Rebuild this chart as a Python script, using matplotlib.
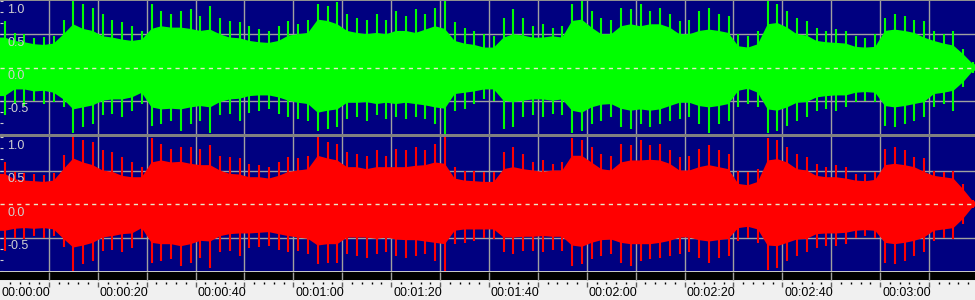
import numpy as np
import matplotlib
matplotlib.use("Agg")
import matplotlib.pyplot as plt
from matplotlib.patches import Rectangle

plt.rcParams['font.family'] = ['Liberation Sans', 'DejaVu Sans']

# 2 second blocks, start times in seconds
block_start = np.arange(0, 200, 2)
t_end = 199.4

# left channel (green): dense body and outer peaks
green_body_hi = [0.45, 0.40, 0.38, 0.35, 0.34, 0.36, 0.50, 0.65, 0.58, 0.55,
                 0.47, 0.45, 0.42, 0.40, 0.42, 0.58, 0.62, 0.60, 0.60, 0.58,
                 0.55, 0.57, 0.50, 0.45, 0.44, 0.40, 0.38, 0.37, 0.40, 0.48,
                 0.50, 0.52, 0.72, 0.70, 0.65, 0.55, 0.52, 0.50, 0.52, 0.50,
                 0.55, 0.55, 0.52, 0.57, 0.62, 0.58, 0.40, 0.36, 0.34, 0.30,
                 0.30, 0.45, 0.50, 0.48, 0.45, 0.45, 0.47, 0.45, 0.70, 0.72,
                 0.60, 0.50, 0.50, 0.62, 0.65, 0.62, 0.65, 0.65, 0.60, 0.50,
                 0.50, 0.55, 0.57, 0.55, 0.52, 0.32, 0.30, 0.35, 0.65, 0.67,
                 0.60, 0.50, 0.48, 0.40, 0.38, 0.37, 0.36, 0.31, 0.30, 0.31,
                 0.55, 0.57, 0.55, 0.52, 0.45, 0.40, 0.36, 0.33, 0.20, 0.05]
green_peak_hi = [0.70, 0.52, 0.50, 0.45, 0.46, 0.48, 0.72, 1.00, 0.95, 0.90,
                 0.80, 0.72, 0.68, 0.62, 0.55, 0.95, 0.85, 0.80, 0.85, 0.88,
                 0.78, 0.92, 0.75, 0.70, 0.68, 0.62, 0.58, 0.55, 0.62, 0.70,
                 0.66, 0.72, 0.95, 0.92, 0.98, 0.80, 0.75, 0.72, 0.80, 0.72,
                 0.85, 0.78, 0.88, 0.80, 0.90, 1.00, 0.68, 0.60, 0.55, 0.50,
                 0.48, 0.75, 0.88, 0.75, 0.62, 0.65, 0.60, 0.62, 0.95, 1.00,
                 0.85, 0.75, 0.72, 0.90, 0.88, 0.95, 0.85, 0.90, 0.80, 0.70,
                 0.72, 0.85, 0.90, 0.80, 0.78, 0.50, 0.48, 0.55, 1.00, 0.95,
                 0.85, 0.75, 0.70, 0.60, 0.55, 0.58, 0.55, 0.48, 0.45, 0.50,
                 0.75, 0.80, 0.78, 0.72, 0.70, 0.55, 0.50, 0.55, 0.28, 0.08]
green_body_lo = [-0.43, -0.33, -0.33, -0.36, -0.35, -0.38, -0.48, -0.63, -0.60, -0.57,
                 -0.50, -0.48, -0.48, -0.45, -0.38, -0.60, -0.63, -0.62, -0.63, -0.60,
                 -0.58, -0.60, -0.52, -0.48, -0.47, -0.43, -0.42, -0.42, -0.45, -0.50,
                 -0.53, -0.55, -0.68, -0.65, -0.63, -0.53, -0.53, -0.52, -0.55, -0.53,
                 -0.55, -0.53, -0.55, -0.57, -0.60, -0.62, -0.40, -0.38, -0.36, -0.33,
                 -0.33, -0.50, -0.52, -0.50, -0.48, -0.48, -0.50, -0.48, -0.65, -0.68,
                 -0.60, -0.56, -0.55, -0.62, -0.65, -0.63, -0.65, -0.63, -0.58, -0.53,
                 -0.53, -0.58, -0.60, -0.58, -0.55, -0.35, -0.32, -0.38, -0.63, -0.65,
                 -0.60, -0.53, -0.52, -0.45, -0.43, -0.42, -0.42, -0.38, -0.37, -0.38,
                 -0.58, -0.60, -0.58, -0.55, -0.52, -0.40, -0.38, -0.35, -0.22, -0.05]
green_peak_lo = [-0.72, -0.55, -0.58, -0.50, -0.55, -0.52, -0.60, -0.98, -0.90, -0.85,
                 -0.72, -0.70, -0.75, -0.65, -0.55, -0.88, -0.85, -0.80, -0.95, -0.85,
                 -0.80, -0.98, -0.72, -0.70, -0.80, -0.68, -0.65, -0.62, -0.70, -0.75,
                 -0.78, -0.80, -0.95, -0.92, -0.90, -0.78, -0.75, -0.80, -0.72, -0.78,
                 -0.75, -0.78, -0.75, -0.78, -0.85, -1.00, -0.65, -0.62, -0.55, -0.48,
                 -0.50, -0.93, -0.90, -0.75, -0.72, -0.75, -0.70, -0.72, -0.98, -0.95,
                 -0.85, -0.80, -0.75, -0.90, -0.92, -0.85, -0.90, -0.85, -0.80, -0.78,
                 -0.75, -0.85, -0.98, -0.85, -0.80, -0.60, -0.55, -0.60, -0.98, -0.95,
                 -0.88, -0.80, -0.75, -0.65, -0.62, -0.65, -0.60, -0.52, -0.50, -0.52,
                 -0.88, -0.90, -0.85, -0.80, -0.75, -0.60, -0.55, -0.65, -0.30, -0.08]

# right channel (red)
red_body_hi = [0.45, 0.37, 0.35, 0.34, 0.33, 0.35, 0.52, 0.68, 0.62, 0.58,
               0.50, 0.48, 0.42, 0.40, 0.40, 0.62, 0.65, 0.62, 0.63, 0.60,
               0.58, 0.58, 0.50, 0.45, 0.44, 0.40, 0.40, 0.38, 0.42, 0.48,
               0.50, 0.52, 0.72, 0.68, 0.65, 0.55, 0.55, 0.52, 0.55, 0.55,
               0.55, 0.55, 0.57, 0.58, 0.62, 0.60, 0.38, 0.35, 0.34, 0.33,
               0.33, 0.52, 0.55, 0.52, 0.50, 0.48, 0.50, 0.50, 0.72, 0.72,
               0.62, 0.52, 0.50, 0.62, 0.65, 0.65, 0.66, 0.65, 0.60, 0.50,
               0.50, 0.55, 0.58, 0.55, 0.52, 0.30, 0.28, 0.33, 0.65, 0.67,
               0.62, 0.52, 0.50, 0.42, 0.40, 0.40, 0.38, 0.35, 0.34, 0.36,
               0.58, 0.60, 0.58, 0.55, 0.48, 0.42, 0.40, 0.38, 0.22, 0.04]
red_peak_hi = [0.62, 0.48, 0.46, 0.45, 0.44, 0.47, 0.73, 1.00, 0.95, 0.92,
               0.80, 0.78, 0.70, 0.62, 0.55, 0.98, 0.90, 0.82, 0.85, 0.85,
               0.82, 0.88, 0.72, 0.70, 0.68, 0.60, 0.58, 0.55, 0.62, 0.70,
               0.68, 0.72, 1.00, 0.92, 0.90, 0.78, 0.75, 0.72, 0.80, 0.72,
               0.82, 0.80, 0.85, 0.80, 0.90, 1.00, 0.55, 0.50, 0.50, 0.48,
               0.48, 0.78, 0.85, 0.75, 0.62, 0.65, 0.60, 0.62, 0.98, 0.95,
               0.85, 0.75, 0.72, 0.90, 0.88, 0.95, 0.88, 0.90, 0.80, 0.70,
               0.72, 0.82, 0.88, 0.80, 0.75, 0.50, 0.48, 0.52, 0.98, 0.95,
               0.85, 0.75, 0.70, 0.60, 0.55, 0.58, 0.55, 0.45, 0.45, 0.48,
               0.82, 0.85, 0.80, 0.70, 0.68, 0.50, 0.48, 0.50, 0.30, 0.06]
red_body_lo = [-0.40, -0.37, -0.36, -0.37, -0.36, -0.38, -0.52, -0.65, -0.62, -0.58,
               -0.50, -0.48, -0.45, -0.44, -0.36, -0.58, -0.60, -0.60, -0.63, -0.60,
               -0.55, -0.56, -0.48, -0.45, -0.44, -0.44, -0.43, -0.42, -0.45, -0.48,
               -0.50, -0.52, -0.62, -0.60, -0.60, -0.50, -0.50, -0.50, -0.52, -0.50,
               -0.53, -0.54, -0.54, -0.56, -0.58, -0.60, -0.40, -0.38, -0.38, -0.38,
               -0.38, -0.50, -0.50, -0.49, -0.49, -0.48, -0.49, -0.49, -0.62, -0.64,
               -0.58, -0.54, -0.53, -0.58, -0.60, -0.60, -0.60, -0.58, -0.55, -0.50,
               -0.50, -0.54, -0.56, -0.54, -0.52, -0.36, -0.34, -0.38, -0.62, -0.63,
               -0.58, -0.53, -0.52, -0.45, -0.44, -0.44, -0.43, -0.40, -0.39, -0.40,
               -0.58, -0.60, -0.58, -0.55, -0.50, -0.40, -0.38, -0.36, -0.22, -0.04]
red_peak_lo = [-0.70, -0.50, -0.52, -0.48, -0.50, -0.48, -0.64, -1.00, -0.90, -0.85,
               -0.70, -0.68, -0.72, -0.65, -0.50, -0.88, -0.85, -0.82, -0.92, -0.88,
               -0.80, -0.95, -0.72, -0.70, -0.78, -0.65, -0.64, -0.62, -0.68, -0.72,
               -0.70, -0.75, -0.90, -0.88, -0.88, -0.75, -0.78, -0.80, -0.75, -0.72,
               -0.78, -0.80, -0.78, -0.75, -0.85, -1.00, -0.60, -0.58, -0.55, -0.50,
               -0.52, -0.72, -0.75, -0.70, -0.70, -0.72, -0.68, -0.70, -0.92, -0.90,
               -0.82, -0.78, -0.75, -0.88, -0.92, -0.85, -0.82, -0.80, -0.78, -0.75,
               -0.72, -0.80, -0.88, -0.80, -0.78, -0.55, -0.50, -0.58, -0.98, -0.95,
               -0.85, -0.78, -0.72, -0.65, -0.62, -0.62, -0.60, -0.50, -0.48, -0.50,
               -0.88, -0.90, -0.85, -0.78, -0.72, -0.55, -0.50, -0.52, -0.30, -0.06]

amp_labels = ["1.0", "0.5", "0.0", "-0.5"]
amp_values = [1.0, 0.5, 0.0, -0.5]

NAVY = '#000080'
GRID = '#a0a0a0'

W, H = 975, 300
fig = plt.figure(figsize=(W / 100, H / 100), dpi=100)
fig.patch.set_facecolor('#f0f0f0')


def px_axes(top, bottom):
    return fig.add_axes([0, 1 - bottom / H, 1, (bottom - top) / H])


def draw_channel(ax, body_hi, body_lo, peak_hi, peak_lo, color, ylo):
    ax.set_facecolor(NAVY)
    ax.set_xlim(0, t_end)
    ax.set_ylim(ylo, 1.0)
    for t in range(10, 200, 10):
        ax.axvline(t, color=GRID, lw=1.0, zorder=1)
    for v in (0.5, -0.5):
        ax.axhline(v, color=GRID, lw=1.0, zorder=1)

    centers = block_start + 1.0
    ax.vlines(centers, 0, peak_hi, color=color, lw=1.5, zorder=2)
    ax.vlines(centers, peak_lo, 0, color=color, lw=1.5, zorder=2)
    # body drawn through block centres, held flat out to both edges
    xs = np.concatenate([[0], centers, [t_end]])
    lo = np.concatenate([[body_lo[0]], body_lo, [body_lo[-1]]])
    hi = np.concatenate([[body_hi[0]], body_hi, [body_hi[-1]]])
    ax.fill_between(xs, lo, hi, color=color, lw=0, zorder=2)

    ax.axhline(0, color='#e8e8c8', lw=1.0, ls=(0, (3, 3)), zorder=4)
    for lab, v in zip(amp_labels, amp_values):
        ax.text(7 / W * t_end, v - 0.04, lab, color='#d0d0d0', fontsize=9,
                ha='left', va='top', zorder=5)
    ax.set_yticks(np.arange(-1.0, 1.01, 1 / 6))
    ax.tick_params(axis='y', direction='in', length=2, color='#d0d0d0',
                   labelleft=False, pad=0)
    ax.set_xticks([])
    for s in ax.spines.values():
        s.set_visible(False)


ax_top = px_axes(1, 134)
draw_channel(ax_top, green_body_hi, green_body_lo, green_peak_hi, green_peak_lo,
             '#00ff00', -0.98)
ax_bot = px_axes(137, 271)
draw_channel(ax_bot, red_body_hi, red_body_lo, red_peak_hi, red_peak_lo,
             '#ff0000', -1.0)

# frame pieces between panels
for top, bottom, c in [(0, 1, '#909090'), (134, 137, '#808080'),
                       (271, 272, '#c8c8c8')]:
    fig.patches.append(Rectangle((0, 1 - bottom / H), 1, (bottom - top) / H,
                                 transform=fig.transFigure, color=c, lw=0))

# time ruler
ax_r = px_axes(272, 300)
ax_r.set_xlim(0, t_end)
ax_r.set_ylim(28, 0)
ax_r.set_facecolor('#f0f0f0')
ax_r.axhspan(0, 8, color='black', lw=0)
ax_r.axhspan(8, 9, color='#e8e8e8', lw=0)
for t in range(10, 200, 10):
    ax_r.vlines(t, 0, 8, color=GRID, lw=1.0)
    ax_r.vlines(t, 9.5, 14.5, color='#606060', lw=1.0)
ax_r.vlines([t for t in range(2, 200, 2) if t % 10], 10, 12, color='black', lw=1.0)
for t in range(0, 200, 20):
    lab = "00:%02d:%02d" % (t // 60, t % 60)
    x = t + (1 if t == 0 else 2) / W * t_end
    ax_r.text(x, 21.5, lab, fontsize=9, color='black', ha='left', va='center')
ax_r.set_xticks([])
ax_r.set_yticks([])
for s in ax_r.spines.values():
    s.set_visible(False)

fig.savefig('out.png', dpi=100, facecolor=fig.get_facecolor())
